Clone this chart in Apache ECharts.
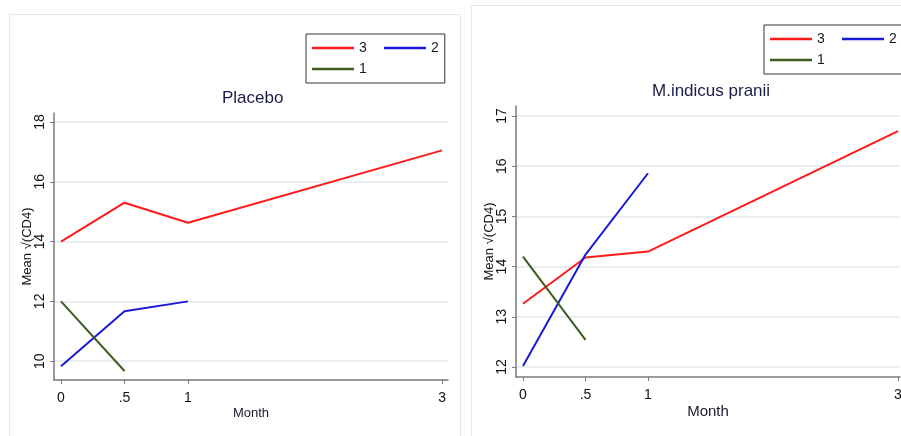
<!DOCTYPE html>
<html>
<head>
<meta charset="utf-8">
<style>
  html, body { margin: 0; padding: 0; background: #fff; }
  #chart { width: 901px; height: 436px; }
</style>
<script src="https://cdn.jsdelivr.net/npm/echarts@6/dist/echarts.min.js"></script>
</head>
<body>
<div id="chart"></div>
<script>
// months of follow-up
const months = [0, 0.5, 1, 3]
const xTickValues = [0, 0.5, 1, 3]
const xTickLabels = ['0', '.5', '1', '3']

// Placebo panel: mean sqrt(CD4) by group
const placebo3 = [14.0, 15.3, 14.63, 17.05]
const placebo2 = [9.83, 11.67, 12.0]
const placebo1 = [12.0, 9.67]
const placeboYTicks = [10, 12, 14, 16, 18]

// M.indicus pranii panel
const mip3 = [13.26, 14.18, 14.3, 16.7]
const mip2 = [12.02, 14.24, 15.86]
const mip1 = [14.2, 12.54]
const mipYTicks = [12, 13, 14, 15, 16, 17]

const colors = { '3': '#ff1a1a', '2': '#1a1ad6', '1': '#3d5c1f' }

const zip = vals => vals.map((v, i) => [months[i], v])

const font = 'Arial, "Liberation Sans", sans-serif'

function xAxisOpt(gridIndex, min, max, nameSize) {
  return {
    type: 'value',
    gridIndex: gridIndex,
    min: min,
    max: max,
    name: 'Month',
    nameLocation: 'middle',
    nameGap: 27,
    nameMoveOverlap: false,
    nameTextStyle: { color: '#1a1a2e', fontSize: nameSize, fontFamily: font },
    axisLine: { show: true, onZero: false, lineStyle: { color: '#7a7a7a', width: 1.5 } },
    axisTick: { show: true, length: 4, customValues: xTickValues, lineStyle: { color: '#7a7a7a' } },
    axisLabel: {
      show: true,
      customValues: xTickValues,
      margin: 11,
      color: '#111',
      fontSize: 14,
      fontFamily: font,
      formatter: v => xTickLabels[xTickValues.indexOf(v)]
    },
    splitLine: { show: false }
  }
}

function yAxisOpt(gridIndex, min, max, ticks) {
  return {
    type: 'value',
    gridIndex: gridIndex,
    min: min,
    max: max,
    name: 'Mean \u221A(CD4)',
    nameLocation: 'middle',
    nameGap: 20,
    nameMoveOverlap: false,
    nameTextStyle: { color: '#111', fontSize: 13, fontFamily: font },
    axisLine: { show: true, onZero: false, lineStyle: { color: '#7a7a7a', width: 1.5 } },
    axisTick: { show: true, length: 4, customValues: ticks, lineStyle: { color: '#7a7a7a' } },
    axisLabel: {
      show: true,
      customValues: ticks,
      rotate: 90,
      margin: 7,
      color: '#111',
      fontSize: 14,
      fontFamily: font
    },
    splitLine: { show: true, lineStyle: { color: '#e1eaef', width: 1.5 } }
  }
}

function lineSeries(name, vals, idx) {
  return {
    name: name,
    type: 'line',
    xAxisIndex: idx,
    yAxisIndex: idx,
    data: zip(vals),
    showSymbol: false,
    symbol: 'none',
    silent: true,
    animation: false,
    lineStyle: { color: colors[name], width: 2 },
    itemStyle: { color: colors[name] }
  }
}

function legendOpt(left, top) {
  return {
    orient: 'vertical',
    left: left,
    top: top,
    height: 38,
    padding: [7, 6, 7, 6],
    itemGap: 7,
    itemWidth: 42,
    itemHeight: 2.5,
    icon: 'rect',
    borderColor: '#333',
    borderWidth: 1,
    borderRadius: 0,
    backgroundColor: '#fff',
    selectedMode: false,
    textStyle: { color: '#1a1a1a', fontSize: 14, fontFamily: font, lineHeight: 14 },
    data: [
      { name: '3', textStyle: { width: 18 } },
      { name: '1', textStyle: { width: 18 } },
      { name: '2' }
    ]
  }
}

const chart = echarts.init(document.getElementById('chart'), null, { renderer: 'canvas' })

chart.setOption({
  animation: false,
  backgroundColor: '#fff',
  title: [
    {
      text: 'Placebo',
      left: 222,
      top: 90,
      padding: 0,
      textStyle: { color: '#1b1b4a', fontSize: 17, fontWeight: 'normal', fontFamily: font }
    },
    {
      text: 'M.indicus pranii',
      left: 652,
      top: 83,
      padding: 0,
      textStyle: { color: '#1b1b4a', fontSize: 17, fontWeight: 'normal', fontFamily: font }
    }
  ],
  legend: [legendOpt(306, 34), legendOpt(764, 25)],
  graphic: [
    {
      type: 'rect',
      z: -10,
      silent: true,
      shape: { x: 9.5, y: 14.5, width: 451, height: 430 },
      style: { fill: 'none', stroke: '#e4eaec', lineWidth: 1 }
    },
    {
      type: 'rect',
      z: -10,
      silent: true,
      shape: { x: 471.5, y: 5.5, width: 440, height: 440 },
      style: { fill: 'none', stroke: '#e4eaec', lineWidth: 1 }
    }
  ],
  grid: [
    { left: 54, top: 113, width: 394, height: 267, outerBoundsMode: 'none', containLabel: false },
    { left: 516, top: 106, width: 384, height: 271, outerBoundsMode: 'none', containLabel: false }
  ],
  xAxis: [
    xAxisOpt(0, -0.055, 3.047, 13),
    xAxisOpt(1, -0.056, 3.016, 15)
  ],
  yAxis: [
    yAxisOpt(0, 9.37, 18.3, placeboYTicks),
    yAxisOpt(1, 11.8, 17.2, mipYTicks)
  ],
  series: [
    lineSeries('3', placebo3, 0),
    lineSeries('2', placebo2, 0),
    lineSeries('1', placebo1, 0),
    lineSeries('3', mip3, 1),
    lineSeries('2', mip2, 1),
    lineSeries('1', mip1, 1)
  ]
})
</script>
</body>
</html>
